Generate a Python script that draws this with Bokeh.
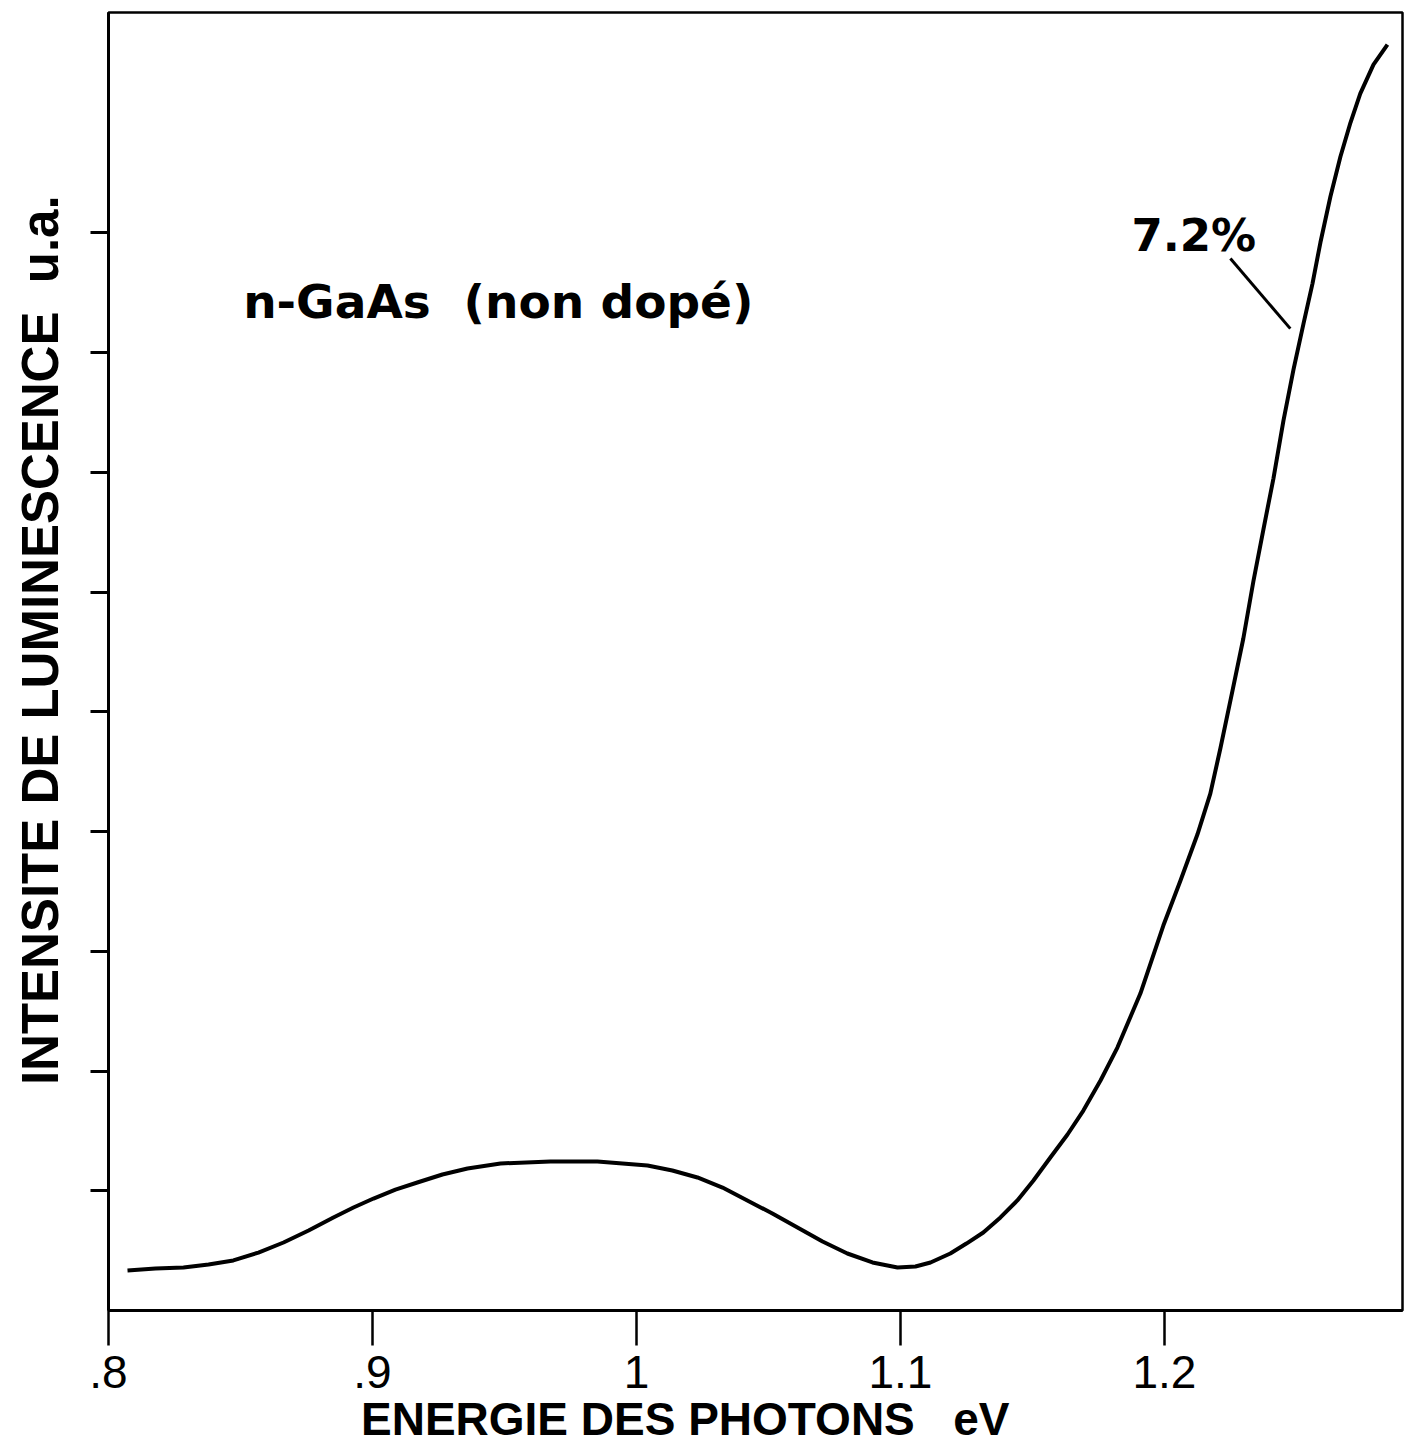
from bokeh.plotting import figure
from bokeh.models import FixedTicker, Range1d
from bokeh.embed import file_html
from bokeh.resources import INLINE
from bokeh.core.properties import value

# --- data ---
energy_eV = [0.8072, 0.8178, 0.8284, 0.8379, 0.8473, 0.8568, 0.8663, 0.8758, 0.8852, 0.8928,
             0.9004, 0.9087, 0.9170, 0.9265, 0.9360, 0.9485, 0.9674, 0.9852, 1.0042, 1.0136,
             1.0231, 1.0326, 1.0420, 1.0515, 1.0610, 1.0705, 1.0799, 1.0894, 1.0989, 1.1057,
             1.1114, 1.1189, 1.1250, 1.1314, 1.1379, 1.1443, 1.1504, 1.1568, 1.1633, 1.1693,
             1.1758, 1.1822, 1.1909, 1.1996, 1.2061, 1.2125, 1.2174, 1.2212, 1.2258, 1.2299,
             1.2337, 1.2375, 1.2413, 1.2451, 1.2489, 1.2527, 1.2561, 1.2591, 1.2629, 1.2667,
             1.2705, 1.2742, 1.2792, 1.2845]
intensity_au = [0.334, 0.351, 0.359, 0.384, 0.418, 0.484, 0.568, 0.668, 0.777, 0.860,
                0.935, 1.010, 1.069, 1.136, 1.186, 1.228, 1.244, 1.244, 1.211, 1.169,
                1.111, 1.027, 0.919, 0.810, 0.693, 0.576, 0.476, 0.401, 0.359, 0.367,
                0.401, 0.476, 0.559, 0.651, 0.777, 0.919, 1.086, 1.278, 1.470, 1.670,
                1.921, 2.196, 2.647, 3.215, 3.591, 3.975, 4.317, 4.693, 5.177, 5.612,
                6.088, 6.522, 6.948, 7.432, 7.858, 8.242, 8.576, 8.919, 9.303, 9.637,
                9.921, 10.163, 10.405, 10.572]

x_tick_values = [0.8, 0.9, 1.0, 1.1, 1.2]
x_tick_labels = [".8", ".9", "1", "1.1", "1.2"]
y_tick_values = [1, 2, 3, 4, 5, 6, 7, 8, 9]

NB = "\u00a0"
x_label = "ENERGIE DES PHOTONS" + NB * 3 + "eV"
y_label = "INTENSITE DE LUMINESCENCE" + NB * 2 + "u.a."

sample_text = "n-GaAs" + NB * 2 + "(non dopé)"
sample_pos = (0.851, 8.43)
curve_label = "7.2%"
curve_label_pos = (1.1875, 8.98)
leader_x = [1.2250, 1.2477]
leader_y = [8.785, 8.200]

x_min, x_max = 0.8, 1.2902
y_min, y_max = 0.0, 10.84

p = figure(width=1410, height=1450, output_backend="svg", toolbar_location=None,
           x_range=Range1d(x_min, x_max), y_range=Range1d(y_min, y_max),
           min_border_left=108, min_border_right=8, min_border_top=12, min_border_bottom=140)

p.background_fill_color = "white"
p.border_fill_color = "white"
p.outline_line_color = "black"
p.outline_line_width = 2.5
p.grid.visible = False

# x axis
xa = p.xaxis[0]
xa.ticker = FixedTicker(ticks=x_tick_values)
xa.major_label_overrides = {v: l for v, l in zip(x_tick_values, x_tick_labels)}
xa.minor_tick_line_color = None
xa.major_tick_in = 0
xa.major_tick_out = 35
xa.major_tick_line_width = 2.5
xa.axis_line_width = 3
xa.major_label_standoff = 10
xa.major_label_text_font = "Liberation Sans"
xa.major_label_text_font_size = "46px"
xa.major_label_text_color = "black"
# trailing no-break spaces move the centred title to the left, as in the reference
xa.axis_label = x_label + NB * 11
xa.axis_label_text_font = "Liberation Sans"
xa.axis_label_text_font_style = "bold"
xa.axis_label_text_font_size = "46px"
xa.axis_label_text_color = "black"
xa.axis_label_standoff = 2

# y axis (ticks only, no labels)
ya = p.yaxis[0]
ya.ticker = FixedTicker(ticks=y_tick_values)
ya.minor_tick_line_color = None
ya.major_tick_in = 0
ya.major_tick_out = 18
ya.major_tick_line_width = 3
ya.axis_line_width = 3
ya.major_label_text_color = None
ya.major_label_standoff = 0
# leading no-break spaces move the centred title upward, as in the reference
ya.axis_label = NB * 3 + y_label
ya.axis_label_text_font = "Liberation Sans"
ya.axis_label_text_font_style = "bold"
ya.axis_label_text_font_size = "51px"
ya.axis_label_text_color = "black"
ya.axis_label_standoff = 22

p.line(energy_eV, intensity_au, line_color="black", line_width=4, line_join="round")
p.line(leader_x, leader_y, line_color="black", line_width=3)

p.text(x=[sample_pos[0]], y=[sample_pos[1]], text=[sample_text],
       text_font=value("DejaVu Sans"), text_font_style="bold", text_font_size="47px",
       text_baseline="middle", text_align="left", text_color="black")
p.text(x=[curve_label_pos[0]], y=[curve_label_pos[1]], text=[curve_label],
       text_font=value("DejaVu Sans"), text_font_style="bold", text_font_size="45px",
       text_baseline="middle", text_align="left", text_color="black")

open("out.html", "w").write(file_html(p, INLINE))
